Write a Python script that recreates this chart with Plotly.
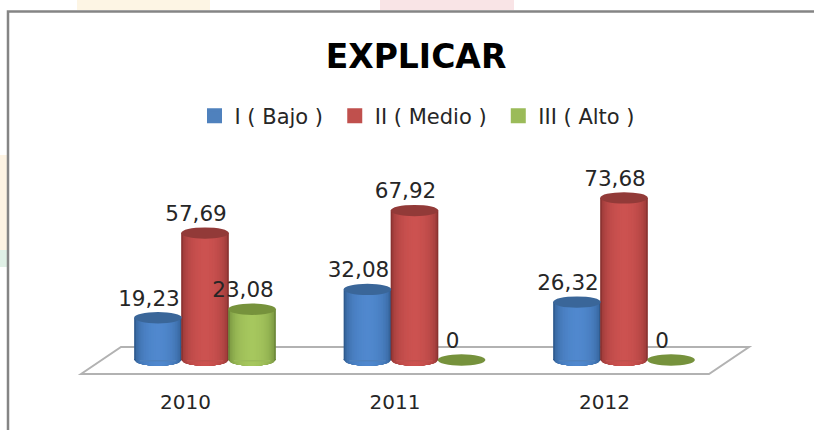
import numpy as np
import plotly.graph_objects as go

categories = ["2010", "2011", "2012"]
series_names = ["I ( Bajo )", "II ( Medio )", "III ( Alto )"]
bajo = [19.23, 32.08, 26.32]
medio = [57.69, 67.92, 73.68]
alto = [23.08, 0, 0]
series_values = [bajo, medio, alto]

W, H = 814, 430
UX = 209.5          # px per category
UY = 2.2            # px per value unit
X0 = 205            # px of first category centre
Y0 = 360            # px of value zero
BOTTOM = 380        # px of plot bottom
OFFS = [-0.2245, 0, 0.2245]
BW = 0.2275
RY = 5.7

legend_col = ["#4f81bd", "#c0504d", "#9bbb59"]
edge_col = [(46, 90, 142), (138, 50, 48), (108, 136, 56)]
mid_col = [(80, 136, 206), (204, 82, 80), (166, 199, 94)]
top_col = ["#3a6699", "#923a38", "#76923c"]

x_range = [-X0 / UX, (W - X0) / UX]
y_range = [(Y0 - BOTTOM) / UY, Y0 / UY]
positions = np.arange(len(categories))


def px2x(p):
    return (p - X0) / UX


def px2y(p):
    return (Y0 - p) / UY


fig = go.Figure()
shapes = []

# page background bits outside the frame
for x0, x1, y0, y1, col in [(77, 210, 0, 10, "#fdf5e4"), (380, 514, 0, 10, "#f9e4e6"),
                            (0, 7, 155, 250, "#fdf3e3"), (0, 7, 250, 267, "#e0f0e6")]:
    shapes.append(dict(type="rect", xref="paper", yref="paper", x0=x0 / W, x1=x1 / W,
                       y0=1 - y1 / H, y1=1 - y0 / H, fillcolor=col, line_width=0, layer="below"))

# frame
shapes.append(dict(type="path", xref="paper", yref="paper",
                   path=f"M {8/W},0 L {8/W},{1-11.5/H} L 1,{1-11.5/H}",
                   line=dict(color="#858585", width=2.5), layer="below"))

# floor
fx = [81, 121, 749, 709]
fy = [374, 347, 347, 374]
path = "M " + " L ".join(f"{px2x(a)},{px2y(b)}" for a, b in zip(fx, fy)) + " Z"
shapes.append(dict(type="path", xref="x", yref="y", path=path,
                   line=dict(color="#b2b2b2", width=2), fillcolor="white", layer="below"))

fracs = np.linspace(1, 0.1, 14)
for s, (name, vals) in enumerate(zip(series_names, series_values)):
    xs = positions + OFFS[s]
    label = name if s == len(series_names) - 1 else name + "\u00a0"
    # legend carrier, hidden beneath the cylinder strips
    fig.add_trace(go.Bar(x=xs, y=vals, width=BW * 0.7, name=label,
                         marker=dict(color=legend_col[s], line=dict(color=legend_col[s], width=3)),
                         hoverinfo="skip"))
    for f in fracs:
        t = np.sqrt(1 - f ** 2) if f < 1 else 0
        c = [int(round(e + (m - e) * t)) for e, m in zip(edge_col[s], mid_col[s])]
        colour = f"rgb({c[0]},{c[1]},{c[2]})"
        fig.add_trace(go.Bar(x=xs, y=vals, width=BW * f, showlegend=False,
                             marker=dict(color=colour, line_width=0), hoverinfo="skip"))
        # rounded lower edge of the cylinder: the outline ellipse cut to this strip's width
        u = np.linspace(-f, f, 17)
        low = -(RY / UY) * np.sqrt(np.clip(1 - u ** 2, 0, 1))
        for x, v in zip(xs, vals):
            if v > 0:
                pts = [(x + a * BW / 2, b) for a, b in zip(u, low)]
                p = "M " + " L ".join(f"{a:.5f},{b:.4f}" for a, b in pts)
                p += f" L {x + f * BW / 2:.5f},0.5 L {x - f * BW / 2:.5f},0.5 Z"
                shapes.append(dict(type="path", xref="x", yref="y", path=p,
                                   fillcolor=colour, line_width=0, layer="below"))
    # top caps
    for x, v in zip(xs, vals):
        shapes.append(dict(type="circle", xref="x", yref="y",
                           x0=x - BW / 2, x1=x + BW / 2,
                           y0=v - RY / UY, y1=v + RY / UY,
                           fillcolor=top_col[s], line_width=0, layer="above"))

# data labels
lx, ly, lt = [], [], []
for s, vals in enumerate(series_values):
    for p, v in zip(positions, vals):
        lx.append(p + OFFS[s] - 9 / UX)
        ly.append(v + 17.5 / UY)
        lt.append(f"{v:.2f}".replace(".", ",") if v else "0")
fig.add_trace(go.Scatter(x=lx, y=ly, text=lt, mode="text", textposition="middle center",
                         textfont=dict(family="DejaVu Sans", size=21.5, color="#262626"),
                         showlegend=False, hoverinfo="skip", cliponaxis=False))

fig.update_layout(
    width=W, height=H, margin=dict(l=0, r=0, t=0, b=0),
    paper_bgcolor="white", plot_bgcolor="rgba(0,0,0,0)",
    barmode="overlay", showlegend=True, shapes=shapes,
    title=dict(text="<b>EXPLICAR</b>", x=416 / W, xanchor="center", y=1 - 56 / H, yanchor="middle",
               font=dict(family="DejaVu Sans", size=33, color="#000000")),
    legend=dict(orientation="h", x=417.5 / W, xanchor="center", y=1 - 116 / H, yanchor="middle",
                font=dict(family="DejaVu Sans", size=21, color="#262626"),
                bgcolor="rgba(0,0,0,0)", traceorder="normal"),
    xaxis=dict(range=x_range, tickmode="array", tickvals=list(positions - 19.5 / UX), ticktext=categories,
               showgrid=False, zeroline=False, showline=False, ticks="",
               tickfont=dict(family="DejaVu Sans", size=20, color="#262626"),
               ticklabelstandoff=8, fixedrange=True),
    yaxis=dict(range=y_range, domain=[(H - BOTTOM) / H, 1], visible=False, fixedrange=True),
)
fig.write_html("out.html", config=dict(displayModeBar=False),
               post_script="document.body.style.margin='0';document.documentElement.style.overflow='hidden';")
